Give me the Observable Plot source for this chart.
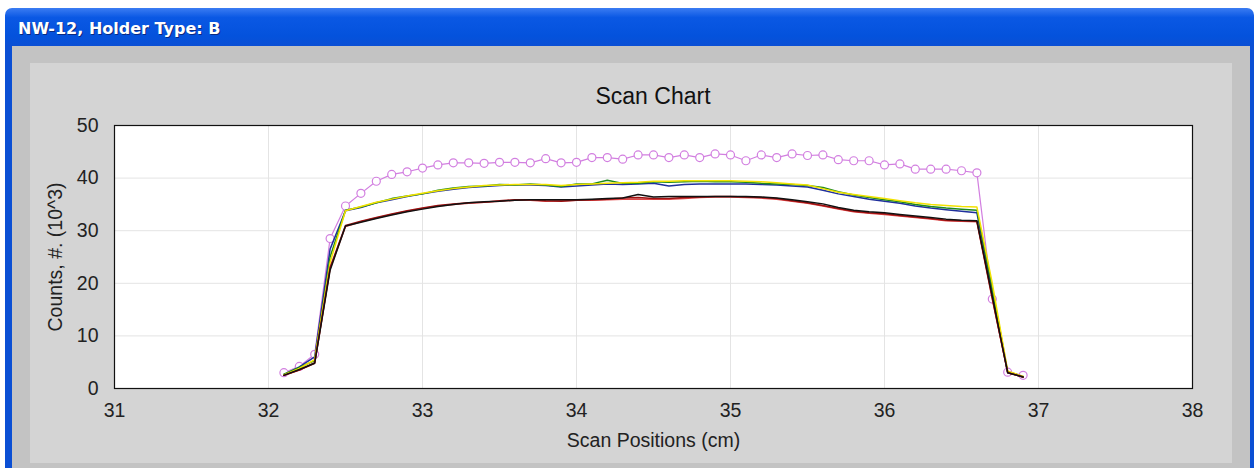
<!DOCTYPE html>
<html><head><meta charset="utf-8">
<script src="https://cdn.jsdelivr.net/npm/d3@7"></script>
<script src="https://cdn.jsdelivr.net/npm/@observablehq/plot@0.6"></script>
<style>
body{margin:0;width:1254px;height:468px;background:#fff;position:relative;overflow:hidden;font-family:"Liberation Sans",Arial,sans-serif}
#titlebar{position:absolute;left:5px;top:8px;width:1249px;height:38px;background:linear-gradient(#3b7cf2,#0a58e4 25%,#0452dc 75%,#0b4fd4);border-radius:7px 7px 0 0}
#titletext{position:absolute;left:18px;top:19px;color:#fff;font:bold 16px "DejaVu Sans",sans-serif;text-shadow:1px 1px 0 #0a2a80}
#border{position:absolute;left:5px;top:46px;width:1249px;height:422px;background:#0b4fd4}
#gray{position:absolute;left:12px;top:46px;width:1238px;height:422px;background:#c3c3c3}
#panel{position:absolute;left:30px;top:63px;width:1202px;height:400px;background:#d4d4d4}
#chart{position:absolute;left:30px;top:63px}
#ctitle{position:absolute;left:114px;width:1078px;top:83px;text-align:center;font-size:23px;color:#111}
</style></head>
<body>
<div id="titlebar"></div>
<div id="titletext">NW-12, Holder Type: B</div>
<div id="border"></div>
<div id="gray"></div>
<div id="panel"></div>
<div id="ctitle">Scan Chart</div>
<div id="chart"></div>
<script>
const positions = [32.1,32.2,32.3,32.4,32.5,32.6,32.7,32.8,32.9,33.0,33.1,33.2,33.3,33.4,33.5,33.6,33.7,33.8,33.9,34.0,34.1,34.2,34.3,34.4,34.5,34.6,34.7,34.8,34.9,35.0,35.1,35.2,35.3,35.4,35.5,35.6,35.7,35.8,35.9,36.0,36.1,36.2,36.3,36.4,36.5,36.6,36.7,36.8,36.9];
const magenta = [3.0,4.2,6.5,28.5,34.7,37.1,39.4,40.7,41.2,41.9,42.5,42.9,42.9,42.8,43.0,43.0,42.9,43.7,42.9,43.0,43.9,43.9,43.6,44.4,44.4,43.9,44.4,43.9,44.6,44.4,43.3,44.4,43.9,44.6,44.3,44.4,43.5,43.3,43.3,42.5,42.7,41.7,41.7,41.7,41.4,41.0,17.0,3.1,2.5];
const yellow = [2.6,3.8,5.5,24.0,33.8,34.6,35.4,36.0,36.6,37.1,37.6,38.0,38.3,38.6,38.7,38.8,38.8,38.8,38.6,38.8,38.9,39.0,39.1,39.2,39.4,39.4,39.5,39.5,39.5,39.5,39.4,39.3,39.1,38.9,38.7,38.0,37.3,36.9,36.5,36.1,35.7,35.3,35.0,34.8,34.6,34.5,20.0,3.3,2.3];
const green = [2.7,4.0,5.3,25.0,33.9,34.5,35.3,36.1,36.6,37.0,37.7,38.1,38.4,38.5,38.8,38.7,38.9,38.7,38.4,38.9,38.9,39.6,39.0,39.0,39.3,39.2,39.3,39.4,39.3,39.3,39.2,39.0,38.9,38.8,38.6,38.2,37.4,36.8,36.3,35.9,35.5,35.0,34.6,34.3,34.1,33.9,19.0,3.2,2.3];
const blue = [2.6,4.1,6.0,26.5,33.8,34.4,35.3,35.9,36.5,37.0,37.5,37.9,38.2,38.4,38.6,38.7,38.7,38.6,38.3,38.5,38.7,38.9,38.8,38.9,39.0,38.5,38.8,38.9,38.9,38.9,38.9,38.8,38.7,38.5,38.3,37.7,37.0,36.5,36.0,35.6,35.2,34.7,34.3,34.0,33.7,33.4,18.5,3.0,2.2];
const red = [2.5,3.5,4.8,22.8,30.8,31.7,32.4,33.1,33.7,34.2,34.7,35.0,35.2,35.4,35.6,35.8,35.8,35.6,35.7,35.8,35.8,35.9,36.0,36.0,36.0,36.0,36.1,36.3,36.4,36.4,36.3,36.2,36.0,35.6,35.2,34.7,34.1,33.6,33.3,33.1,32.8,32.5,32.2,31.9,31.8,31.7,17.0,3.0,2.2];
const darkred = [2.5,3.5,4.9,23.0,31.0,31.8,32.5,33.2,33.8,34.3,34.8,35.1,35.3,35.4,35.7,35.9,35.9,35.7,35.6,35.8,35.9,36.0,36.2,36.3,36.1,36.1,36.3,36.4,36.5,36.5,36.4,36.3,36.1,35.7,35.3,34.8,34.2,33.7,33.4,33.2,32.9,32.6,32.3,32.0,31.9,31.8,17.2,3.0,2.2];
const black = [2.5,3.6,4.8,22.5,30.9,31.6,32.3,33.0,33.6,34.1,34.6,35.0,35.3,35.5,35.6,35.8,35.9,35.9,35.9,35.9,36.0,36.1,36.2,36.9,36.4,36.5,36.5,36.5,36.5,36.5,36.5,36.4,36.2,35.9,35.5,35.1,34.4,33.9,33.6,33.4,33.1,32.8,32.5,32.2,32.0,31.9,17.5,3.0,2.2];
const xTicks = [31,32,33,34,35,36,37,38];
const yTicks = [0,10,20,30,40,50];
const gridXTicks = [32,33,34,35,36,37];
const gridYTicks = [10,20,30,40];

const seriesDefs = [
  {name:"blue", values:blue, color:"#1f2f9c"},
  {name:"green", values:green, color:"#1e8a1e"},
  {name:"yellow", values:yellow, color:"#f2e200"},
  {name:"red", values:red, color:"#e04848"},
  {name:"darkred", values:darkred, color:"#9c1010"},
  {name:"black", values:black, color:"#111111"}
];
const rows = s => positions.map((x,i)=>({x, y:s.values[i]}));
const magRows = positions.map((x,i)=>({x, y:magenta[i]}));

const chart = Plot.plot({
  width:1202, height:400,
  marginLeft:84, marginRight:40, marginTop:62, marginBottom:75,
  style:{background:"transparent", fontFamily:"Liberation Sans, Arial, sans-serif", fontSize:"19px", color:"#222", overflow:"visible"},
  x:{domain:[31,38]},
  y:{domain:[0,50]},
  marks:[
    Plot.frame({fill:"white"}),
    Plot.gridX(gridXTicks, {stroke:"#e4e4e4", strokeOpacity:1}),
    Plot.gridY(gridYTicks, {stroke:"#e4e4e4", strokeOpacity:1}),
    Plot.axisX(xTicks, {tickSize:0, tickPadding:15, tickFormat:d => String(d), label:"Scan Positions (cm)", labelAnchor:"center", labelArrow:"none", labelOffset:58, fontSize:19.5}),
    Plot.axisY(yTicks, {tickSize:0, tickPadding:16, tickFormat:d => String(d), label:"Counts, #. (10^3)", labelAnchor:"center", labelArrow:"none", labelOffset:66, fontSize:19.5}),
    Plot.line(magRows, {x:"x", y:"y", stroke:"#d27fe0", strokeWidth:1.2}),
    Plot.dot(magRows, {x:"x", y:"y", r:4, stroke:"#d27fe0", fill:"white", strokeWidth:1.2}),
    ...seriesDefs.map(s => Plot.line(rows(s), {x:"x", y:"y", stroke:s.color, strokeWidth:1.5})),
    Plot.frame({stroke:"#111", strokeWidth:1.2})
  ]
});
document.getElementById("chart").appendChild(chart);
</script>
</body></html>
